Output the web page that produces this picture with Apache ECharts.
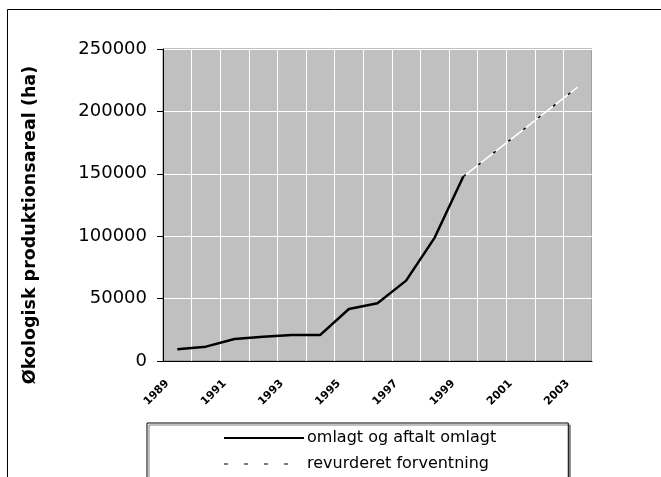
<!DOCTYPE html>
<html>
<head>
<meta charset="utf-8">
<script src="https://cdn.jsdelivr.net/npm/echarts@6/dist/echarts.min.js"></script>
<style>
  html, body { margin: 0; padding: 0; background: #fff; }
  #chart { width: 661px; height: 477px; }
</style>
</head>
<body>
<div id="chart"></div>
<script>
// Økologisk produktionsareal i Danmark (ha)
const years = ['1989', '1990', '1991', '1992', '1993', '1994', '1995', '1996',
               '1997', '1998', '1999', '2000', '2001', '2002', '2003'];
// Omlagt og aftalt omlagt areal
const omlagt = [9400, 11500, 17600, 19500, 20900, 20900, 41700, 46300,
                64400, 98900, 147800, null, null, null, null];
// Revurderet forventning
const forventning = [null, null, null, null, null, null, null, null,
                     null, null, 147800, 165700, 183600, 201600, 219500];
const yTicks = [0, 50000, 100000, 150000, 200000, 250000];

const seriesNames = ['omlagt og aftalt omlagt', 'revurderet forventning'];
const yTitle = 'Økologisk produktionsareal (ha)';

const chart = echarts.init(document.getElementById('chart'), null, { renderer: 'canvas' });

chart.setOption({
  animation: false,
  backgroundColor: '#ffffff',
  textStyle: { fontFamily: 'DejaVu Sans' },
  grid: {
    left: 163, right: 69, top: 49, bottom: 116,
    show: true,
    backgroundColor: '#c0c0c0',
    borderColor: '#808080',
    borderWidth: 1
  },
  graphic: [
    {
      type: 'rect',
      shape: { x: 7.5, y: 9.5, width: 700, height: 500 },
      style: { fill: 'none', stroke: '#000', lineWidth: 1 },
      z: -10
    },
    {
      type: 'text',
      x: 30, y: 225,
      rotation: Math.PI / 2,
      style: {
        text: yTitle,
        font: 'bold 17.5px "DejaVu Sans"',
        fill: '#000',
        align: 'center',
        verticalAlign: 'middle'
      }
    }
  ],
  legend: {
    orient: 'vertical',
    left: 147,
    top: 423,
    height: 200,
    padding: [7, 72, 20, 76],
    itemWidth: 80,
    itemHeight: 14,
    itemGap: 10,
    backgroundColor: '#ffffff',
    borderColor: '#000',
    borderWidth: 1,
    borderRadius: 0,
    shadowColor: '#808080',
    shadowOffsetX: 2,
    shadowOffsetY: 2,
    shadowBlur: 0,
    itemStyle: { opacity: 0 },
    data: [
      { name: seriesNames[0] },
      { name: seriesNames[1], lineStyle: { type: [4, 16], width: 1.2 } }
    ],
    textStyle: { fontFamily: 'DejaVu Sans', fontSize: 16, color: '#000', padding: [0, 0, 0, -2] }
  },
  xAxis: {
    type: 'category',
    data: years,
    boundaryGap: true,
    axisLine: { lineStyle: { color: '#000', width: 1 } },
    axisTick: { interval: 0, length: 5, lineStyle: { color: '#000' } },
    splitLine: { show: true, interval: 0, lineStyle: { color: '#ffffff', width: 1 } },
    axisLabel: {
      interval: 1,
      rotate: 45,
      margin: 11,
      padding: [0, 14, 0, 0],
      fontFamily: 'DejaVu Sans',
      fontWeight: 'bold',
      fontSize: 11,
      color: '#000'
    }
  },
  yAxis: {
    type: 'value',
    min: yTicks[0],
    max: yTicks[yTicks.length - 1],
    interval: yTicks[1] - yTicks[0],
    axisLine: { show: true, lineStyle: { color: '#000', width: 1 } },
    axisTick: { show: true, length: 6, lineStyle: { color: '#000' } },
    splitLine: { show: true, lineStyle: { color: '#ffffff', width: 1 } },
    axisLabel: {
      margin: 16,
      formatter: v => String(v),
      fontFamily: 'DejaVu Sans',
      fontSize: 18,
      color: '#000'
    }
  },
  series: [
    {
      name: seriesNames[0],
      type: 'line',
      data: omlagt,
      symbol: 'none',
      lineStyle: { color: '#000', width: 2.5 },
      itemStyle: { color: '#000' },
      z: 3
    },
    {
      // white base under the dashed forecast
      name: 'forventning-base',
      type: 'line',
      data: forventning,
      symbol: 'none',
      lineStyle: { color: '#ffffff', width: 1.5 },
      z: 2
    },
    {
      name: seriesNames[1],
      type: 'line',
      data: forventning,
      symbol: 'none',
      lineStyle: { color: '#000', width: 1.5, type: [3, 16] },
      itemStyle: { color: '#000' },
      z: 3
    }
  ]
});
</script>
</body>
</html>
